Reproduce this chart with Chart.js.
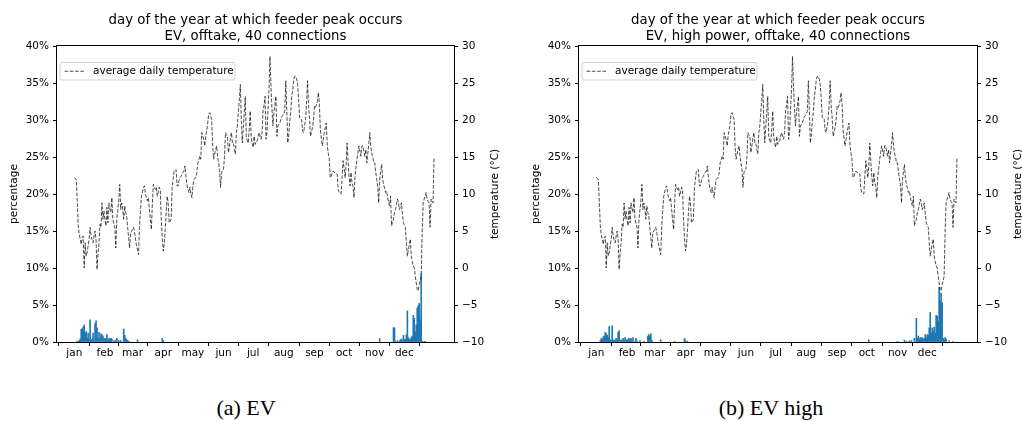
<!DOCTYPE html>
<html>
<head>
<meta charset="utf-8">
<script src="https://cdn.jsdelivr.net/npm/chart.js@4.4.1/dist/chart.umd.min.js"></script>
<style>
  html, body { margin: 0; padding: 0; background: #fff; overflow: hidden; }
  #wrap { position: relative; width: 1022px; height: 421px; }
  canvas { position: absolute; top: 0; }
  .cap { position: absolute; top: 395px; font-family: "Liberation Serif", serif; font-size: 22px; color: #000; transform: translateX(-50%); white-space: nowrap; }
</style>
</head>
<body>
<div id="wrap">
  <canvas id="chartEV" width="511" height="380" style="left:0"></canvas>
  <canvas id="chartEVHigh" width="511" height="380" style="left:511px"></canvas>
  <div class="cap" style="left:246px">(a) EV</div>
  <div class="cap" style="left:771px">(b) EV high</div>
</div>
<script>
// month ticks (day index of the 1st of each month)
const monthStarts = [0, 31, 59, 90, 120, 151, 181, 212, 243, 273, 304, 334];
const monthLabels = ['jan', 'feb', 'mar', 'apr', 'may', 'jun', 'jul', 'aug', 'sep', 'oct', 'nov', 'dec'];

const pctTicks = [0, 5, 10, 15, 20, 25, 30, 35, 40];
const tempTicks = [-10, -5, 0, 5, 10, 15, 20, 25, 30];

// average daily temperature (°C), day 0 .. 364
const avgTemp = [
  12.2, 12.1, 12.0, 9.0, 5.7, 4.5, 3.9, 3.2, 4.1, 4.3,
  0.0, 3.4, 1.6, 2.1, 3.0, 3.9, 5.5, 4.3, 3.8, 3.4,
  4.3, 5.0, 3.9, -0.2, 2.0, 3.4, 5.9, 5.5, 8.8, 6.6,
  7.7, 6.5, 5.7, 8.2, 6.1, 8.8, 8.0, 7.5, 9.5, 6.6,
  6.0, 5.5, 2.7, 6.6, 7.8, 9.1, 11.3, 7.9, 8.8, 8.0,
  6.6, 8.4, 7.5, 7.0, 5.5, 4.0, 2.7, 4.8, 5.0, 5.2,
  5.5, 4.8, 3.8, 3.0, 2.4, 1.8, 5.7, 7.8, 9.7, 10.3,
  10.9, 11.1, 10.0, 9.5, 9.1, 9.5, 7.9, 6.5, 5.2, 8.8,
  11.3, 10.9, 10.6, 10.9, 9.7, 10.3, 10.9, 10.6, 6.6, 4.0,
  2.3, 3.2, 5.2, 7.5, 9.7, 8.8, 6.1, 6.3, 6.6, 10.9,
  12.0,
  13.1, 13.2, 13.3, 11.1, 11.1, 11.8, 12.2, 12.4, 12.7, 12.9,
  13.1, 13.8, 12.4, 11.2, 10.6, 10.2, 10.9, 10.0, 9.5, 11.1,
  12.0, 12.1, 12.2, 12.9, 14.2, 14.6, 15.1, 14.7, 18.3, 17.8,
  17.4, 16.5, 17.8, 18.6, 19.6, 20.8, 21.0, 20.5, 20.1, 16.5,
  14.7, 15.3, 16.0, 16.5, 15.1, 14.2, 13.3, 10.9, 12.9, 13.2,
  13.3, 15.1, 18.3, 18.0, 17.8, 15.6, 16.5, 17.5, 18.3, 16.9,
  16.9, 16.0, 15.4, 18.3, 19.2, 21.0, 22.8, 24.8, 20.1, 16.9,
  19.0, 21.0, 23.2, 17.8, 17.2, 16.9, 18.7, 21.2, 17.8, 16.8,
  16.3, 17.8, 16.7, 17.0, 17.2, 17.8, 18.3, 17.8, 17.4, 18.3,
  21.2, 22.0, 23.2, 17.4, 18.3, 21.5, 24.1, 28.6, 24.6, 21.5,
  19.2, 21.2, 22.0, 23.2, 17.8, 19.2, 19.4, 19.6, 20.1, 20.5,
  20.6,
  20.8, 21.2, 25.3, 21.4, 16.9, 18.0, 19.9, 21.0, 23.2, 24.0,
  25.5, 25.9, 25.9, 25.5, 24.8, 22.8, 20.3, 20.2, 20.1, 18.5,
  18.3, 19.2, 20.1, 22.3, 25.3, 22.0, 20.3, 17.8, 18.3, 19.0,
  19.9, 21.9, 21.7, 22.0, 22.6, 23.7, 22.1, 18.7, 17.5, 16.5,
  17.4, 18.3, 19.0, 19.6, 16.5, 15.5, 14.7, 12.2, 12.4, 12.8,
  13.1, 12.9, 12.9, 12.8, 12.7, 10.6, 10.2, 10.1, 10.0, 12.4,
  14.5, 13.5, 12.2, 13.8, 16.9, 14.5, 12.4, 11.1, 12.9, 11.5,
  11.1, 9.5, 12.4, 13.5, 14.7, 15.6, 16.5, 15.8, 15.1, 16.5,
  16.5, 15.8, 15.1, 16.0, 14.2, 15.5, 16.7, 18.3, 16.5, 15.4,
  15.0,
  14.2, 14.2, 12.9, 12.0, 11.1, 8.8, 12.0, 13.0, 14.0, 12.0,
  11.3, 10.8, 10.2, 10.4, 9.5, 8.9, 8.4, 9.7, 5.7, 6.2,
  6.6, 7.5, 7.9, 8.6, 9.3, 8.8, 7.9, 8.3, 8.8, 7.3,
  6.1, 5.8, 5.5, 3.4, 1.6, 2.4, 3.2, 3.9, 1.6, 0.9,
  0.3, 0.0, -1.1, -2.0, -2.9, -3.1, -2.2, -1.8, -1.1, 4.8,
  8.8, 9.3, 9.7, 10.2, 9.3, 9.0, 8.8, 5.5, 9.3, 9.0,
  8.8, 14.9
];

// share of feeder peaks per day, [day index, percentage]; days not listed are 0
const peakEV = [
  [3, 0.1], [4, 0.1], [5, 0.2], [6, 0.4], [7, 1.7], [8, 1.8], [9, 2.0], [10, 2.3], [11, 1.2], [12, 1.4],
  [13, 0.5], [14, 1.2], [15, 0.3], [16, 3.0], [17, 0.3], [18, 0.4], [19, 1.2], [20, 0.2], [21, 2.5], [22, 2.85],
  [23, 1.9], [24, 0.5], [25, 1.3], [26, 0.5], [27, 1.1], [28, 1.0], [29, 0.8], [30, 0.4], [31, 0.5], [32, 0.4],
  [33, 1.0], [34, 0.2], [35, 0.5], [36, 0.3], [37, 0.5], [38, 0.4], [40, 0.2], [42, 0.2], [43, 0.5], [45, 0.2],
  [47, 0.2], [50, 1.75], [51, 0.9], [52, 0.5], [53, 0.3], [54, 0.2], [55, 0.1], [64, 0.3], [89, 0.5], [90, 0.2],
  [309, 0.45], [323, 1.95], [324, 1.9], [325, 0.1], [327, 0.2], [329, 0.1], [330, 0.3], [331, 0.4], [332, 0.15],
  [333, 0.9], [334, 0.4], [335, 0.3], [336, 1.0], [337, 4.2], [338, 0.6], [339, 0.3], [340, 0.4], [341, 0.6],
  [342, 0.8], [343, 3.6], [344, 3.2], [345, 1.4], [346, 2.3], [347, 4.6], [348, 4.9], [349, 5.2], [350, 3.0],
  [351, 9.2], [352, 0.1], [354, 0.1], [355, 0.05]
];

const peakEVHigh = [
  [4, 0.2], [5, 0.5], [6, 0.3], [7, 0.7], [8, 0.8], [9, 1.3], [10, 1.1], [11, 0.9], [12, 0.6], [13, 2.1],
  [14, 0.3], [15, 0.2], [16, 2.2], [17, 0.2], [18, 0.3], [19, 0.2], [20, 0.5], [21, 0.3], [22, 1.3], [23, 1.5],
  [24, 0.2], [25, 0.3], [26, 0.2], [27, 0.5], [28, 0.2], [29, 0.6], [30, 0.2], [31, 0.3], [32, 0.4], [33, 0.5],
  [34, 0.2], [35, 0.5], [36, 0.2], [37, 0.6], [38, 0.1], [40, 0.5], [41, 0.2], [44, 0.2], [48, 0.1], [52, 0.8],
  [53, 1.0], [54, 0.8], [55, 1.1], [56, 0.2], [65, 0.3], [79, 0.1], [89, 0.5], [90, 0.2], [92, 0.1], [275, 0.3],
  [304, 0.1], [311, 0.25], [313, 0.1], [316, 0.15], [318, 0.2], [321, 0.5], [323, 3.2], [324, 0.5], [325, 0.8],
  [326, 0.4], [327, 0.6], [328, 0.4], [329, 0.6], [330, 0.4], [331, 0.5], [332, 1.0], [333, 0.6], [334, 1.0],
  [335, 0.9], [336, 1.9], [337, 4.0], [338, 1.2], [339, 1.9], [340, 1.5], [341, 2.0], [342, 1.2], [343, 3.6],
  [344, 3.5], [345, 2.8], [346, 7.4], [347, 5.5], [348, 6.6], [349, 5.3], [350, 0.5], [351, 0.3], [352, 0.6],
  [353, 0.4], [356, 0.2], [360, 0.1]
];

const FONT = 'DejaVu Sans';
const tickFont = { family: FONT, size: 10.5 };

// draws matplotlib-like frame, titles, axis labels and legend
const decorations = {
  id: 'decorations',
  afterDraw(chart, args, opts) {
    const { ctx, chartArea: a } = chart;
    ctx.save();
    // frame
    ctx.strokeStyle = '#000';
    ctx.lineWidth = 1;
    ctx.strokeRect(a.left - 0.5, a.top - 0.5, a.right - a.left + 1, a.bottom - a.top + 1);
    // title
    ctx.fillStyle = '#000';
    ctx.textAlign = 'center';
    ctx.textBaseline = 'middle';
    ctx.font = '13.3px ' + FONT;
    const cx = (a.left + a.right) / 2;
    opts.title.forEach((t, i) => ctx.fillText(t, cx, 20.5 + i * 16.3));
    // axis titles
    ctx.font = '10.5px ' + FONT;
    const cy = (a.top + a.bottom) / 2;
    [[a.left - 42.5, 'percentage'], [a.right + 41, 'temperature (°C)']].forEach(([x, t]) => {
      ctx.save();
      ctx.translate(x, cy);
      ctx.rotate(-Math.PI / 2);
      ctx.fillText(t, 0, 0);
      ctx.restore();
    });
    // legend
    const lx = a.left + 3, ly = a.top + 16.5, lw = 175, lh = 17.5;
    ctx.beginPath();
    ctx.roundRect(lx, ly, lw, lh, 2);
    ctx.fillStyle = 'rgba(255,255,255,0.8)';
    ctx.fill();
    ctx.strokeStyle = '#d0d0d0';
    ctx.stroke();
    ctx.beginPath();
    ctx.setLineDash([3.7, 1.6]);
    ctx.strokeStyle = 'rgba(0,0,0,0.7)';
    ctx.moveTo(lx + 4.5, ly + lh / 2);
    ctx.lineTo(lx + 24, ly + lh / 2);
    ctx.stroke();
    ctx.setLineDash([]);
    ctx.fillStyle = '#000';
    ctx.textAlign = 'left';
    ctx.fillText('average daily temperature', lx + 33, ly + lh / 2 + 0.5);
    ctx.restore();
  }
};

function axisGrid() {
  return { drawOnChartArea: false, drawTicks: true, tickLength: 4, color: '#000', lineWidth: 1 };
}

function makeChart(id, peaks, title, leftW, rightW) {
  const ctx = document.getElementById(id).getContext('2d');
  return new Chart(ctx, {
    type: 'bar',
    data: {
      datasets: [
        {
          type: 'line',
          label: 'average daily temperature',
          data: avgTemp.map((t, i) => ({ x: i, y: t })),
          yAxisID: 'y1',
          borderColor: 'rgba(0,0,0,0.7)',
          borderWidth: 1,
          borderDash: [3.7, 1.6],
          pointRadius: 0,
          tension: 0,
          order: 0
        },
        {
          type: 'bar',
          label: 'percentage',
          data: peaks.map(p => ({ x: p[0], y: p[1] })),
          yAxisID: 'y',
          backgroundColor: '#1f77b4',
          borderWidth: 0,
          barThickness: 1,
          order: 1
        }
      ]
    },
    options: {
      responsive: false,
      animation: false,
      layout: { padding: { top: 46, left: 0, right: 0, bottom: 0 } },
      plugins: {
        legend: { display: false },
        tooltip: { enabled: false },
        decorations: { title: title }
      },
      scales: {
        x: {
          type: 'linear',
          min: -17.5,
          max: 384.2,
          offset: false,
          afterBuildTicks: s => { s.ticks = monthStarts.map(v => ({ value: v })); },
          afterFit: s => { s.height = 38; },
          ticks: {
            autoSkip: false, maxRotation: 0, padding: 1, color: '#000', font: tickFont,
            callback: v => monthLabels[monthStarts.indexOf(v)]
          },
          grid: axisGrid(),
          border: { display: false }
        },
        y: {
          position: 'left',
          min: 0,
          max: 40,
          afterBuildTicks: s => { s.ticks = pctTicks.map(v => ({ value: v })); },
          afterFit: s => { s.width = leftW; },
          ticks: { padding: 4, color: '#000', font: tickFont, callback: v => v + '%' },
          grid: axisGrid(),
          border: { display: false }
        },
        y1: {
          position: 'right',
          min: -10,
          max: 30,
          afterBuildTicks: s => { s.ticks = tempTicks.map(v => ({ value: v })); },
          afterFit: s => { s.width = rightW; },
          ticks: { padding: 4, color: '#000', font: tickFont, callback: v => String(v).replace('-', '\u2212') },
          grid: axisGrid(),
          border: { display: false }
        }
      }
    },
    plugins: [decorations]
  });
}

makeChart('chartEV', peakEV,
  ['day of the year at which feeder peak occurs', 'EV, offtake, 40 connections'], 57, 57);
makeChart('chartEVHigh', peakEVHigh,
  ['day of the year at which feeder peak occurs', 'EV, high power, offtake, 40 connections'], 68, 45);
</script>
</body>
</html>
